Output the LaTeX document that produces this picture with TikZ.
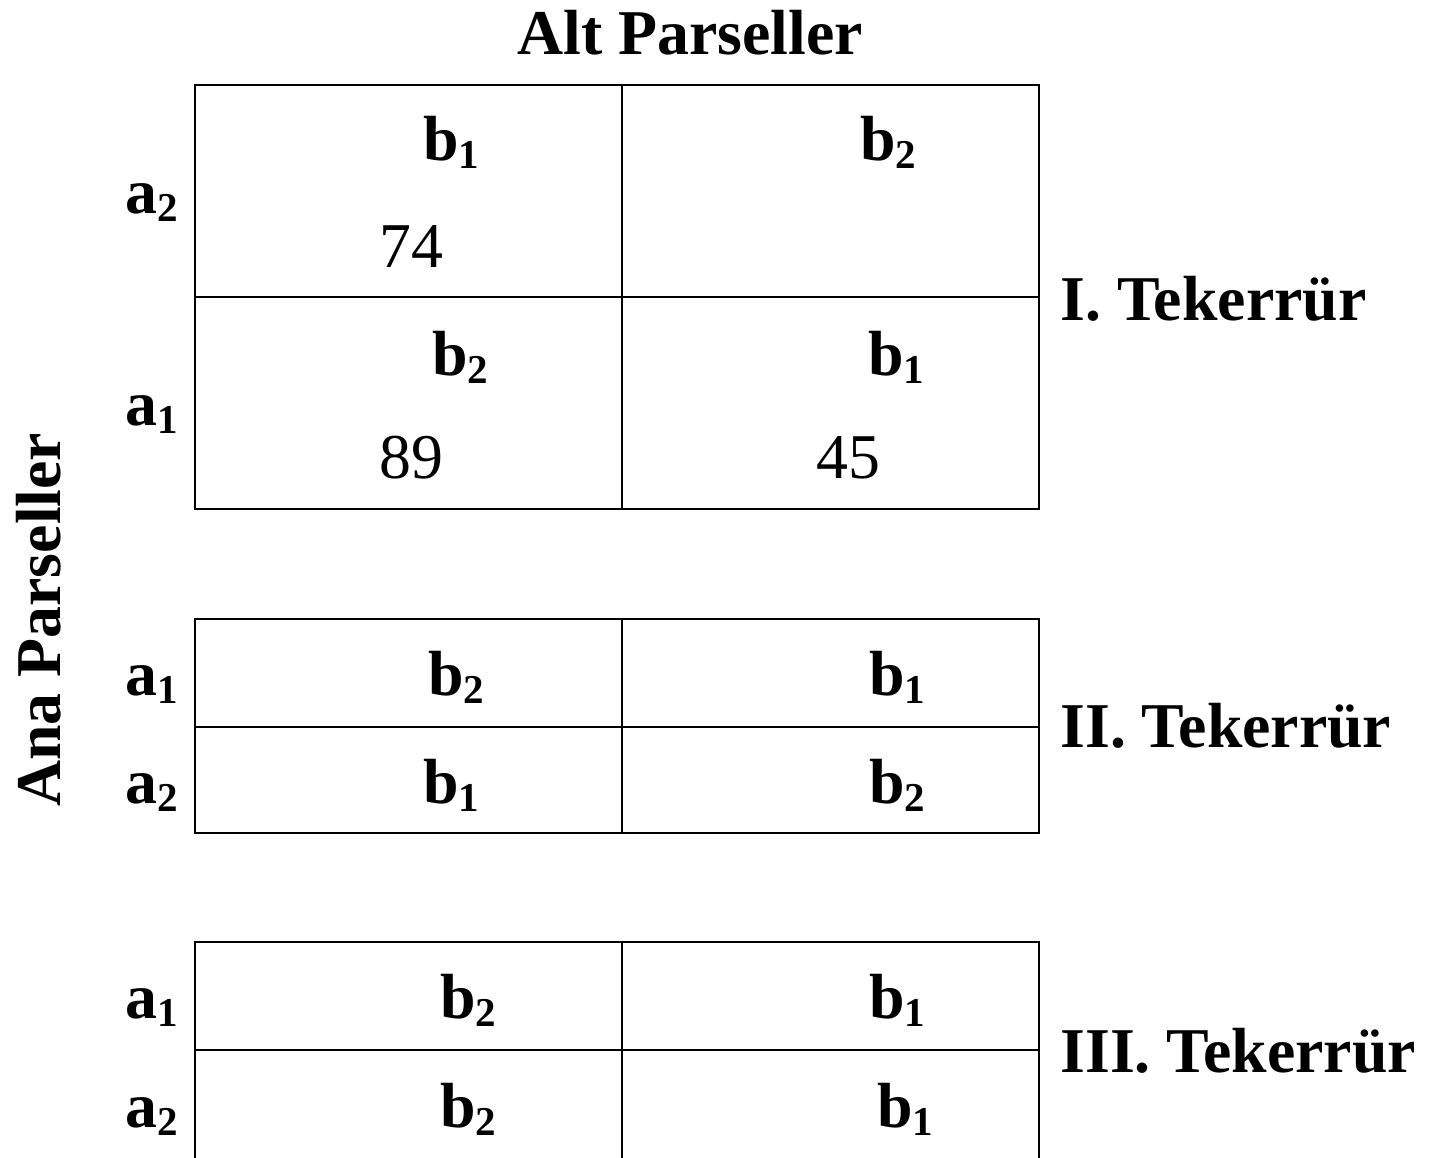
\documentclass[tikz,border=0pt]{standalone}
\usepackage{fontspec}
\setmainfont{Liberation Serif}
% letter with a lowered, smaller index
\newcommand{\idx}[2]{#1\raisebox{-4.3pt}{\fontsize{20.5}{20.5}\selectfont #2}}
\begin{document}
\begin{tikzpicture}[x=0.5pt,y=-0.5pt,
  lab/.style={anchor=base west, inner sep=0pt, font=\fontsize{31.9}{36}\selectfont\bfseries},
  num/.style={anchor=base west, inner sep=0pt, font=\fontsize{31.9}{36}\selectfont},
  rule/.style={line width=1.1pt, line cap=rect}]
\useasboundingbox (0,0) rectangle (1433,1157);

% headings
\node[lab] (alt) at (517,54) {Alt Parseller};
\node[lab, rotate=90] (ana) at (60,807) {Ana Parseller};

% block I
\draw[rule] (195,85) rectangle (1039,509);
\draw[rule] (195,297) -- (1039,297);
\draw[rule] (622,85) -- (622,509);
\node[lab] (r1a2) at (125,213) {\idx{a}{2}};
\node[lab] (r1a1) at (125,425) {\idx{a}{1}};
\node[lab] (r1c11) at (423,160) {\idx{b}{1}};
\node[lab] (r1c12) at (860,160) {\idx{b}{2}};
\node[num] (r1v11) at (379,267) {74};
\node[lab] (r1c21) at (432,375) {\idx{b}{2}};
\node[lab] (r1c22) at (868,375) {\idx{b}{1}};
\node[num] (r1v21) at (379,478) {89};
\node[num] (r1v22) at (816,478) {45};
\node[lab] (t1) at (1060,320) {I. Tekerrür};

% block II
\draw[rule] (195,619) rectangle (1039,833);
\draw[rule] (195,727) -- (1039,727);
\draw[rule] (622,619) -- (622,833);
\node[lab] (r2a1) at (125,695) {\idx{a}{1}};
\node[lab] (r2a2) at (125,803) {\idx{a}{2}};
\node[lab] (r2c11) at (428,695) {\idx{b}{2}};
\node[lab] (r2c12) at (869,695) {\idx{b}{1}};
\node[lab] (r2c21) at (423,803) {\idx{b}{1}};
\node[lab] (r2c22) at (869,803) {\idx{b}{2}};
\node[lab] (t2) at (1060,747) {II. Tekerrür};

% block III
\draw[rule] (195,942) rectangle (1039,1159);
\draw[rule] (195,1050) -- (1039,1050);
\draw[rule] (622,942) -- (622,1159);
\node[lab] (r3a1) at (125,1018) {\idx{a}{1}};
\node[lab] (r3a2) at (125,1127) {\idx{a}{2}};
\node[lab] (r3c11) at (440,1018) {\idx{b}{2}};
\node[lab] (r3c12) at (869,1018) {\idx{b}{1}};
\node[lab] (r3c21) at (440,1127) {\idx{b}{2}};
\node[lab] (r3c22) at (877,1127) {\idx{b}{1}};
\node[lab] (t3) at (1060,1072) {III. Tekerrür};
\end{tikzpicture}
\end{document}
